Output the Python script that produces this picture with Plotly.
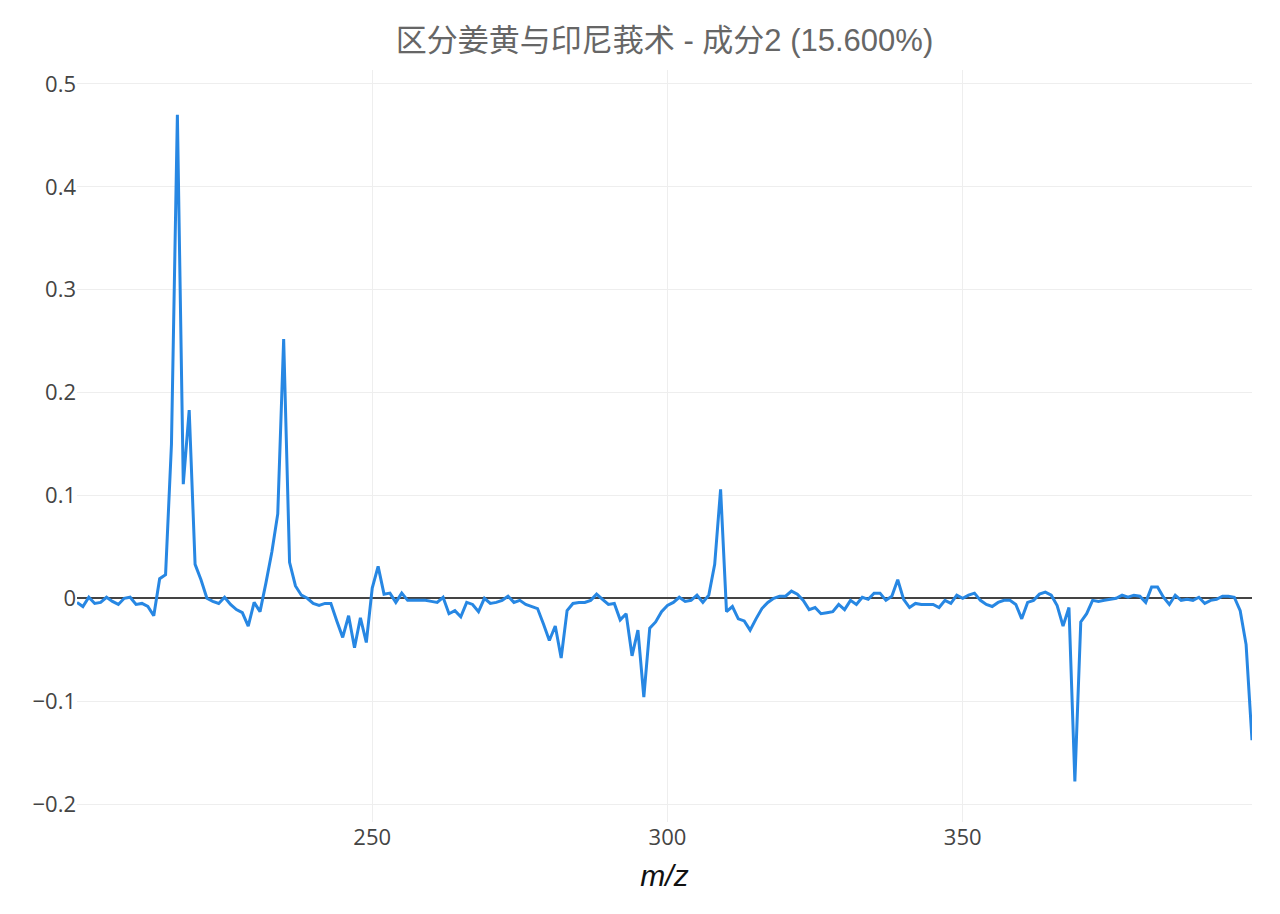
import plotly.graph_objects as go

title_text = "区分姜黄与印尼莪术 - 成分2 (15.600%)"
x_title = "m/z"

mz_start = 200
loadings = [
    -0.004, -0.008, 0.001, -0.005, -0.004, 0.001, -0.003, -0.006, 0.000, 0.001,   # 200-209
    -0.006, -0.005, -0.008, -0.017, 0.019, 0.023, 0.150, 0.470, 0.111, 0.183,     # 210-219
    0.033, 0.018, 0.000, -0.003, -0.005, 0.001, -0.006, -0.011, -0.014, -0.027,   # 220-229
    -0.004, -0.013, 0.015, 0.045, 0.082, 0.252, 0.035, 0.012, 0.003, 0.000,      # 230-239
    -0.005, -0.007, -0.005, -0.005, -0.022, -0.038, -0.017, -0.048, -0.019, -0.043,  # 240-249
    0.010, 0.031, 0.004, 0.005, -0.004, 0.005, -0.002, -0.002, -0.002, -0.002,   # 250-259
    -0.003, -0.004, 0.001, -0.015, -0.012, -0.018, -0.004, -0.006, -0.013, 0.000,  # 260-269
    -0.005, -0.004, -0.002, 0.002, -0.004, -0.002, -0.006, -0.008, -0.010, -0.025,  # 270-279
    -0.041, -0.027, -0.058, -0.012, -0.005, -0.004, -0.004, -0.002, 0.004, -0.001,  # 280-289
    -0.006, -0.005, -0.021, -0.015, -0.056, -0.031, -0.096, -0.029, -0.023, -0.013,  # 290-299
    -0.007, -0.004, 0.001, -0.003, -0.002, 0.003, -0.004, 0.003, 0.033, 0.106,   # 300-309
    -0.013, -0.008, -0.020, -0.022, -0.031, -0.020, -0.010, -0.004, 0.000, 0.002,  # 310-319
    0.002, 0.007, 0.004, -0.002, -0.011, -0.009, -0.015, -0.014, -0.013, -0.006,  # 320-329
    -0.011, -0.002, -0.006, 0.001, -0.001, 0.005, 0.005, -0.002, 0.002, 0.018,   # 330-339
    -0.001, -0.009, -0.005, -0.006, -0.006, -0.006, -0.009, -0.002, -0.005, 0.003,  # 340-349
    0.000, 0.003, 0.005, -0.002, -0.006, -0.008, -0.004, -0.002, -0.002, -0.006,  # 350-359
    -0.020, -0.004, -0.002, 0.004, 0.006, 0.003, -0.007, -0.027, -0.009, -0.178,  # 360-369
    -0.023, -0.015, -0.002, -0.003, -0.002, -0.001, 0.000, 0.003, 0.001, 0.003,  # 370-379
    0.002, -0.004, 0.011, 0.011, 0.001, -0.006, 0.003, -0.002, -0.001, -0.002,   # 380-389
    0.001, -0.005, -0.002, -0.001, 0.002, 0.002, 0.001, -0.012, -0.045, -0.138,  # 390-399
]
mz = list(range(mz_start, mz_start + len(loadings)))

x_tickvals = [250, 300, 350]
y_tickvals = [-0.2, -0.1, 0, 0.1, 0.2, 0.3, 0.4, 0.5]

fig = go.Figure()
fig.add_trace(go.Scatter(
    x=mz, y=loadings, mode="lines",
    line=dict(color="#2787E3", width=3),
    showlegend=False,
))

fig.update_layout(
    width=1280, height=914,
    paper_bgcolor="white", plot_bgcolor="white",
    font=dict(family="Open Sans, Noto Sans CJK SC, sans-serif", color="#444"),
    title=dict(text=title_text, xref="paper", x=0.5, xanchor="center",
               y=0.965, yanchor="middle",
               font=dict(size=31, color="#666",
                         family="Liberation Sans, Arial, Noto Sans CJK SC, sans-serif")),
    margin=dict(l=69, r=36, t=62, b=100),
    xaxis=dict(
        range=[200, 399], tickvals=x_tickvals, automargin=False,
        showgrid=True, gridcolor="#eeeeee", zeroline=False,
        showline=False, ticks="", tickfont=dict(size=22, color="#444"),
        title=dict(text="<i>" + x_title + "</i>",
                   font=dict(size=30, color="#111",
                             family="Liberation Sans, Arial, sans-serif"),
                   standoff=14),
    ),
    yaxis=dict(
        range=[-0.2175, 0.5136], tickvals=y_tickvals, automargin=False,
        showgrid=True, gridcolor="#eeeeee",
        zeroline=True, zerolinecolor="#444", zerolinewidth=1.5,
        showline=False, ticks="", tickfont=dict(size=22, color="#444"),
    ),
)

fig.write_html("out.html")
